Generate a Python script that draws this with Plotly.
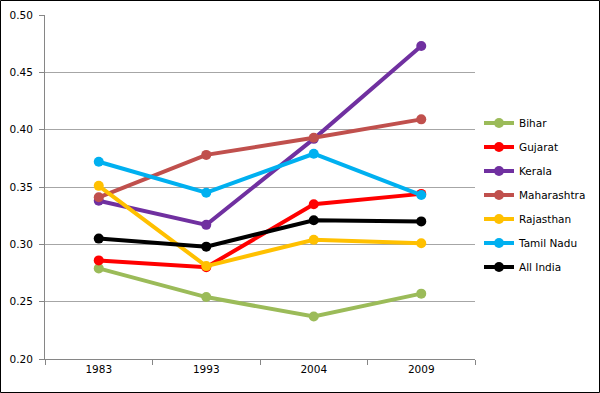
import plotly.graph_objects as go

years = ["1983", "1993", "2004", "2009"]
bihar = [0.279, 0.254, 0.237, 0.257]
gujarat = [0.286, 0.280, 0.335, 0.344]
kerala = [0.338, 0.317, 0.392, 0.473]
maharashtra = [0.341, 0.378, 0.393, 0.409]
rajasthan = [0.351, 0.281, 0.304, 0.301]
tamil_nadu = [0.372, 0.345, 0.379, 0.343]
all_india = [0.305, 0.298, 0.321, 0.320]

series = [
    ("Bihar", bihar, "#9BBB59"),
    ("Gujarat", gujarat, "#FF0000"),
    ("Kerala", kerala, "#7030A0"),
    ("Maharashtra", maharashtra, "#C0504D"),
    ("Rajasthan", rajasthan, "#FFC000"),
    ("Tamil Nadu", tamil_nadu, "#00B0F0"),
    ("All India", all_india, "#000000"),
]

fig = go.Figure()
for name, vals, col in series:
    fig.add_trace(go.Scatter(
        x=years, y=vals, name=name, mode="lines+markers",
        line=dict(color=col, width=4),
        marker=dict(color=col, size=10),
        legendgroup=name,
    ))

W, H = 600, 393
l, r, t, b = 45, 125, 15, 34
pw, ph = W - l - r, H - t - b

fig.update_layout(
    width=W, height=H, autosize=False,
    margin=dict(l=l, r=r, t=t, b=b, autoexpand=False),
    paper_bgcolor="white", plot_bgcolor="white",
    font=dict(family="DejaVu Sans", size=10.5, color="#000000"),
    showlegend=True,
    legend=dict(xref="container", yref="container",
                x=479 / W, xanchor="left", y=1 - 195 / H, yanchor="middle",
                font=dict(size=10.5), tracegroupgap=5, itemwidth=30,
                bgcolor="rgba(0,0,0,0)"),
    xaxis=dict(
        type="category", showgrid=False, showline=True, linecolor="#868686",
        linewidth=1, ticks="outside", tickson="boundaries", ticklen=5,
        tickcolor="#868686", range=[-0.5, 3.5], automargin=False,
    ),
    yaxis=dict(
        range=[0.20, 0.50], dtick=0.05, tickformat=".2f",
        showgrid=True, gridcolor="#A6A6A6", gridwidth=1,
        showline=True, linecolor="#868686", linewidth=1,
        ticks="outside", ticklen=5, tickcolor="#868686", zeroline=False,
        ticklabelstandoff=4, automargin=False,
    ),
)

fig.add_shape(type="rect", xref="paper", yref="paper",
              x0=(-l + 0.5) / pw, x1=(W - l - 0.5) / pw,
              y0=(-b + 0.5) / ph, y1=(H - b - 0.5) / ph,
              line=dict(color="black", width=1), fillcolor="rgba(0,0,0,0)",
              layer="above")

fig.write_html("out.html",
               config={"displayModeBar": False},
               post_script="document.body.style.margin='0';document.body.style.overflow='hidden';")
